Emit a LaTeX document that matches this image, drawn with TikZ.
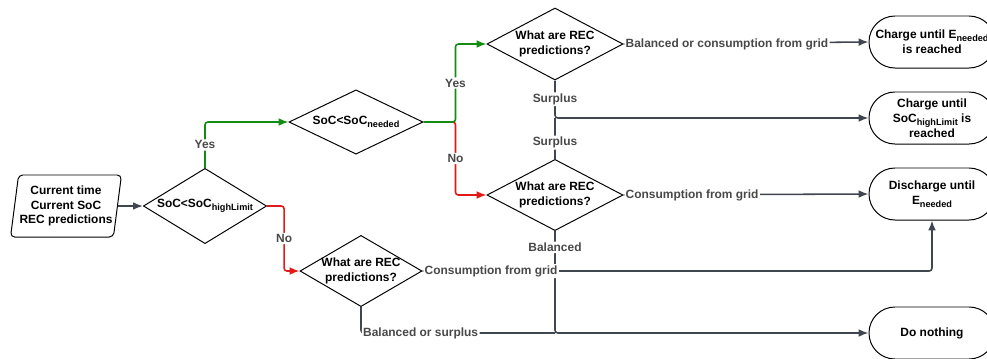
\documentclass[tikz,border=0pt]{standalone}
\usepackage{fontspec}
\setmainfont{Liberation Sans}
\usetikzlibrary{shapes.geometric,arrows.meta}
\newcommand{\lowtext}[1]{\raisebox{-0.45ex}{\fontsize{6.5}{7}\selectfont #1}}

\begin{document}
\begin{tikzpicture}[x=0.025cm,y=-0.025cm,
	every node/.style={font=\fontsize{8.5}{10.5}\selectfont\bfseries},
	decision/.style={diamond,draw=black,line width=0.7pt,inner sep=-6pt,align=center},
	result/.style={draw=black,line width=0.7pt,rounded corners=0.65cm,minimum width=3.15cm,minimum height=1.3cm,align=center},
	datain/.style={trapezium,trapezium left angle=79,trapezium right angle=101,trapezium stretches=true,draw=black,line width=0.7pt,rounded corners=3pt,minimum width=2.78cm,minimum height=1.55cm,align=center,inner sep=0pt},
	link/.style={draw=linegray,line width=1.1pt,rounded corners=2pt},
	arr/.style={link,-{Latex[length=7pt,width=5.5pt]}},
	yesarr/.style={arr,draw=yesgreen},
	noarr/.style={arr,draw=nored},
	lab/.style={fill=white,text=labgray,inner sep=1pt}]
			\definecolor{linegray}{RGB}{64,70,80}
			\definecolor{labgray}{RGB}{72,72,72}
			\definecolor{yesgreen}{RGB}{20,140,20}
			\definecolor{nored}{RGB}{225,25,25}
				\useasboundingbox (0,0) rectangle (987,358);
				% start and decisions
				\node[datain] (input) at (66,206) {Current time\\Current SoC\\REC predictions};
				\node[decision,minimum width=3.08cm,minimum height=1.55cm] (d1) at (205,206) {SoC<SoC\lowtext{highLimit}};
				\node[decision,minimum width=3.35cm,minimum height=1.53cm] (d2) at (356,122) {SoC<SoC\lowtext{needed}};
				\node[decision,minimum width=3.05cm,minimum height=1.75cm] (d3) at (361,271) {What are REC\\predictions?};
				\node[decision,minimum width=3.4cm,minimum height=1.8cm] (d4) at (555,44) {What are REC\\predictions?};
				\node[decision,minimum width=3.4cm,minimum height=1.75cm] (d5) at (555,195) {What are REC\\predictions?};
				% outcomes
				\node[result] (t1) at (932,42) {Charge until E\lowtext{needed}\\is reached};
				\node[result] (t2) at (932,118) {Charge until\\SoC\lowtext{highLimit} is\\reached};
				\node[result] (t3) at (932,194) {Discharge until\\E\lowtext{needed}};
				\node[result] (t4) at (932,333) {Do nothing};
			
				\draw[arr] (input.east) -- (d1.west);
				\draw[yesarr] (d1.north) |- node[lab,pos=0.25] {Yes} (d2.west);
				\draw[noarr] (d1.east) -- ++(17,0) |- node[lab,pos=0.25] {No} (d3.west);
				\draw[noarr] (d2.east) -- ++(32,0) |- node[lab,pos=0.25] {No} (d5.west);
				\draw[yesarr] (d2.east) -- ++(32,0) |- node[lab,pos=0.25] {Yes} (d4.west);
				\draw[arr] (d4.east) -- node[lab,anchor=west,pos=0] {Balanced or consumption from grid} (t1.west);
				\draw[arr] (d4.south) |- node[lab,pos=0.25] {Surplus} (t2.west);
				\draw[link] (d5.north) -- node[lab,pos=0.4] {Surplus} (d5.north |- t2.west);
				\draw[arr] (d5.east) -- node[lab,anchor=west,pos=0] {Consumption from grid} (t3.west);
				\draw[arr] (d5.south) |- node[lab,pos=0.08] {Balanced} (t4.west);
				\draw[arr] (d3.east) -| node[lab,anchor=west,pos=0] {Consumption from grid} (t3.south);
				\draw[link] (d3.south) |- node[lab,anchor=west,pos=0.5] {Balanced or surplus} (d5.south |- t4.west);
		\end{tikzpicture}
\end{document}
